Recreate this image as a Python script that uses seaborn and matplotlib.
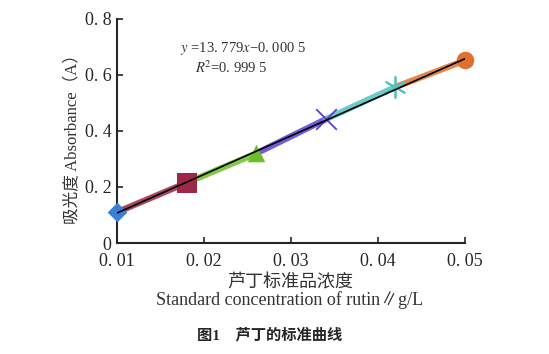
import numpy as np
import pandas as pd
import matplotlib
matplotlib.use("Agg")
import matplotlib.pyplot as plt
import seaborn as sns

# standard curve data
conc = [0.010, 0.018, 0.026, 0.034, 0.042, 0.050]
absorb = [0.110, 0.215, 0.320, 0.442, 0.557, 0.652]
colors = ["#3b7fd8", "#9b2846", "#6cbd2c", "#5a3fd0", "#4fc3bf", "#e0702f"]
markers = ["D", "s", "^", "x", (6, 2, 0), "o"]
sizes = [100, 190, 160, 220, 230, 160]
xticks = [0.01, 0.02, 0.03, 0.04, 0.05]
xticklabels = ["0. 01", "0. 02", "0. 03", "0. 04", "0. 05"]
yticks = [0, 0.2, 0.4, 0.6, 0.8]
yticklabels = ["0", "0. 2", "0. 4", "0. 6", "0. 8"]

sns.set_style("ticks")
plt.rcParams["font.family"] = ["Liberation Serif", "Noto Sans CJK SC"]
plt.rcParams["mathtext.fontset"] = "stix"

df = pd.DataFrame({"conc": conc, "abs": absorb})

fig = plt.figure(figsize=(5.49, 3.54), dpi=100)
ax = fig.add_axes([117 / 549, 1 - 243 / 354, (465 - 117) / 549, (243 - 19) / 354])

# coloured segments, each in the colour of the point it runs to
for i in range(1, len(df)):
    seg = df.iloc[i - 1:i + 1]
    sns.lineplot(data=seg, x="conc", y="abs", color=colors[i], lw=4.5,
                 alpha=0.85, ax=ax, legend=False)

for i in range(len(df)):
    lw = 1.3 if markers[i] in ("x", (6, 2, 0)) else 0
    ax.scatter(conc[i], absorb[i], marker=markers[i], s=sizes[i],
               color=colors[i], linewidths=lw, zorder=4, clip_on=False)

# fitted line through the plotted points
k, b = np.polyfit(conc, absorb, 1)
fx = np.array([conc[0], conc[-1]])
ax.plot(fx, k * fx + b, color="black", lw=1.2, zorder=5)

ax.set_xlim(0.01, 0.05)
ax.set_ylim(0, 0.8)
ax.set_xticks(xticks)
ax.set_xticklabels(xticklabels)
ax.set_yticks(yticks)
ax.set_yticklabels(yticklabels)
ax.tick_params(direction="in", length=4, width=1.2, labelsize=13, pad=4)
ax.tick_params(axis="x", pad=7)
sns.despine(ax=ax)
for s in ["left", "bottom"]:
    ax.spines[s].set_linewidth(1.5)
ax.set_xlabel("")
ax.set_ylabel("")

fig.text(72 / 549, 1 - 135 / 354, "吸光度 Absorbance（A）", rotation=90,
         ha="center", va="center", fontsize=12, color="#333333")
fig.text(290 / 549, 1 - 283 / 354, "芦丁标准品浓度", ha="center", va="center",
         fontsize=13, color="#333333")
fig.text(290 / 549, 1 - 300 / 354, "Standard concentration of rutin∥g/L",
         ha="center", va="center", fontsize=13, color="#333333")
fig.text(270 / 549, 1 - 335 / 354, "图1    芦丁的标准曲线", ha="center",
         va="center", fontsize=11, fontweight="bold")

ax.text(0.0172, 0.693, "$\\it{y}$ =13. 779$\\it{x}$−0. 000 5", ha="left",
        va="center", fontsize=10.5, color="#333333")
ax.text(0.019, 0.625, "$\\it{R}$$^2$=0. 999 5", ha="left", va="center",
        fontsize=10.5, color="#333333")

fig.savefig("out.png", dpi=100)
